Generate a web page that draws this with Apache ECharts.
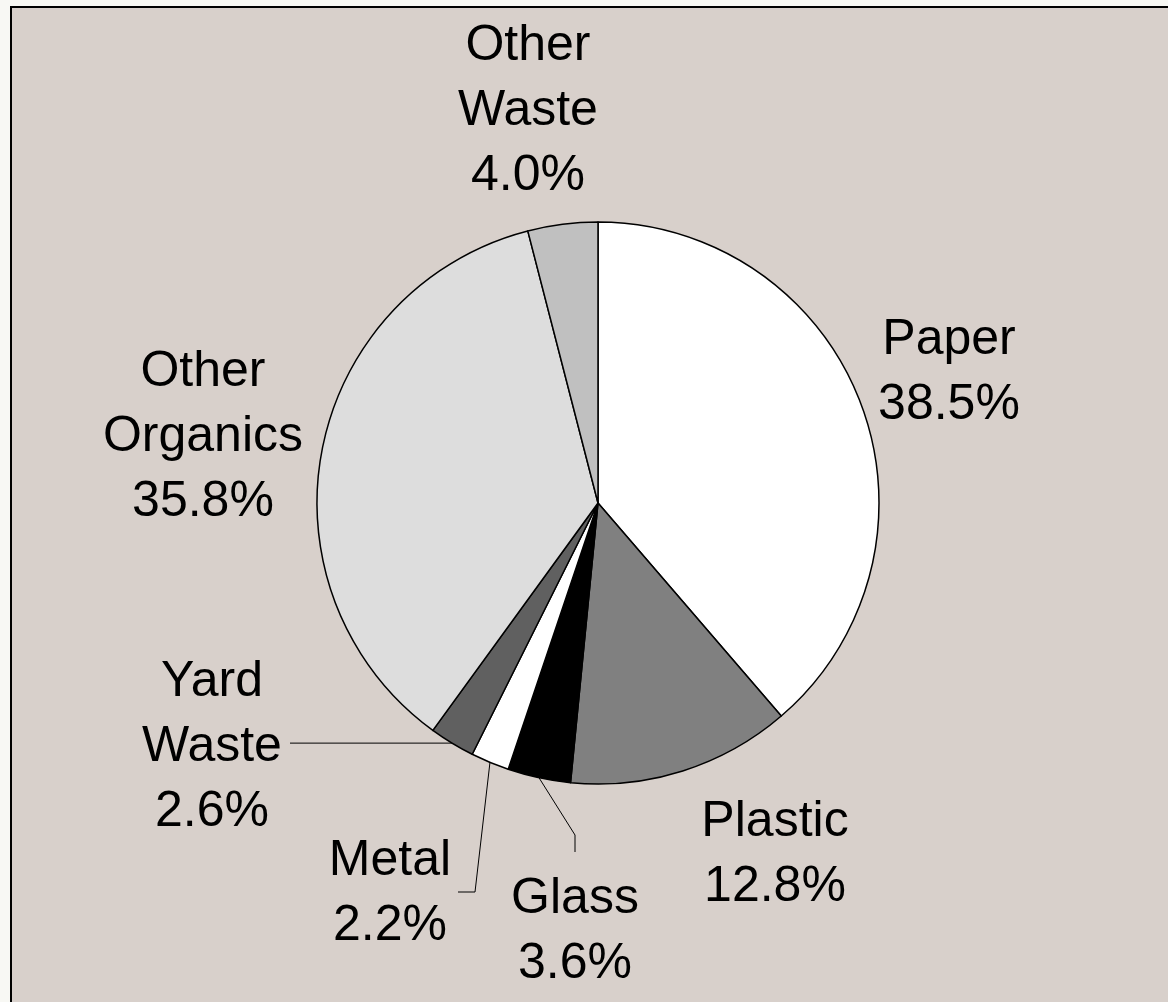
<!DOCTYPE html>
<html>
<head>
<meta charset="utf-8">
<style>
  html, body { margin: 0; padding: 0; background: #F8F8F4; }
  #chart { width: 1168px; height: 1002px; }
</style>
<script src="https://cdn.jsdelivr.net/npm/echarts@6/dist/echarts.min.js"></script>
</head>
<body>
<div id="chart"></div>
<script>
// Data
const categories = ['Paper', 'Plastic', 'Glass', 'Metal', 'Yard Waste', 'Other Organics', 'Other Waste'];
const values = [38.5, 12.8, 3.6, 2.2, 2.6, 35.8, 4.0];

// Styles
const sliceColors = ['#FFFFFF', '#808080', '#000000', '#FFFFFF', '#606060', '#DDDDDD', '#C0C0C0'];
const showLeader = [false, false, true, true, true, false, false];
// label block centres (layout)
const labelPos = [
  [949, 373], [775, 855], [575, 932], [390, 894], [212, 747], [203, 437], [528, 111]
];

const chart = echarts.init(document.getElementById('chart'), null, { renderer: 'canvas' });

const data = categories.map((name, i) => ({
  name: name,
  value: values[i],
  itemStyle: { color: sliceColors[i] },
  labelLine: { show: showLeader[i] }
}));

chart.setOption({
  animation: false,
  backgroundColor: '#F8F8F4',
  graphic: [{
    type: 'rect',
    z: -10,
    shape: { x: 11, y: 7, width: 1180, height: 1020 },
    style: { fill: '#D8D0CB', stroke: '#000000', lineWidth: 2 },
    silent: true
  }],
  series: [{
    type: 'pie',
    center: [598, 503],
    radius: 281,
    startAngle: 90,
    clockwise: true,
    avoidLabelOverlap: false,
    emphasis: { disabled: true },
    silent: true,
    itemStyle: { borderColor: '#000000', borderWidth: 1.5 },
    label: {
      show: true,
      position: 'outside',
      color: '#000000',
      fontFamily: '"Liberation Sans", Arial, sans-serif',
      fontSize: 50,
      lineHeight: 65,
      align: 'center',
      formatter: p => p.name.replace(' ', '\n') + '\n' + p.value.toFixed(1) + '%'
    },
    labelLine: {
      show: true,
      length: 20,
      length2: 20,
      lineStyle: { color: '#000000', width: 1 }
    },
    labelLayout: function (params) {
      const i = params.dataIndex;
      const pos = labelPos[i];
      const out = { x: pos[0], y: pos[1], align: 'center', verticalAlign: 'middle' };
      const pts = params.labelLinePoints;
      if (showLeader[i] && pts && pts.length) {
        const s = pts[0];
        if (i === 4) {        // Yard Waste: horizontal to label
          out.labelLinePoints = [[s[0], s[1]], [s[0] - 1, s[1]], [290, s[1]]];
        } else if (i === 3) { // Metal
          out.labelLinePoints = [[s[0], s[1]], [475, 892], [458, 892]];
        } else if (i === 2) { // Glass
          out.labelLinePoints = [[s[0], s[1]], [575, 835], [575, 852]];
        }
      }
      return out;
    },
    data: data
  }]
});
</script>
</body>
</html>
